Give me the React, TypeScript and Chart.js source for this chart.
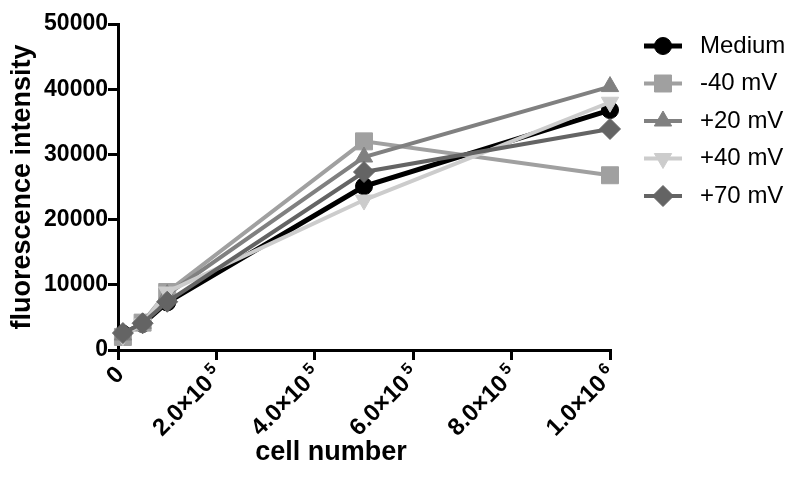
import React, { useEffect, useRef } from 'react';
import { Chart, registerables } from 'chart.js';
import { drawPoint } from 'chart.js/helpers';

Chart.register(...registerables);

// ---- data ----
const cellNumbers = [1e4, 5e4, 1e5, 5e5, 1e6];
const seriesNames = ['Medium', '-40 mV', '+20 mV', '+40 mV', '+70 mV'];
const medium = [2500, 4000, 7300, 25100, 36800];
const minus40 = [2000, 4200, 8900, 32000, 26800];
const plus20 = [2300, 4100, 8500, 29600, 40400];
const plus40 = [2200, 4000, 8900, 23000, 38000];
const plus70 = [2600, 4100, 7400, 27300, 33900];
const xTickValues = [0, 2e5, 4e5, 6e5, 8e5, 1e6];
const xTickMantissas = ['0', '2.0×10', '4.0×10', '6.0×10', '8.0×10', '1.0×10'];
const xTickExponents = ['', '5', '5', '5', '5', '6'];
const yTickValues = [0, 10000, 20000, 30000, 40000, 50000];
const xTitle = 'cell number';
const yTitle = 'fluorescence intensity';

// ---- styles ----
const FONT = '"Liberation Sans", Arial, Helvetica, sans-serif';
const colors = ['#000000', '#a0a0a0', '#808080', '#cccccc', '#646464'];
const pointStyles = ['circle', 'rect', 'triangle', 'triangle', 'rectRot'];
const pointRotations = [0, 0, 0, 180, 0];
const pointRadii = [8.5, 12, 10, 10, 10.5];
const lineWidths = [5, 4, 4, 4, 4];
const drawOrder = [4, 3, 2, 1, 0];

const legendPlugin = {
  id: 'customLegend',
  afterDraw(chart: any) {
    const ctx = chart.ctx;
    const { right, top } = chart.chartArea;
    chart.data.datasets.forEach((ds: any, i: number) => {
      const y = top + 22 + i * 37.5;
      const x0 = right + 34;
      const x1 = right + 72;
      ctx.save();
      ctx.strokeStyle = ds.borderColor;
      ctx.lineWidth = ds.borderWidth;
      ctx.beginPath();
      ctx.moveTo(x0, y);
      ctx.lineTo(x1, y);
      ctx.stroke();
      ctx.fillStyle = ds.pointBackgroundColor;
      ctx.strokeStyle = ds.pointBorderColor;
      ctx.lineWidth = 1;
      drawPoint(
        ctx,
        { pointStyle: ds.pointStyle, rotation: ds.pointRotation, radius: ds.pointRadius, borderWidth: 1 } as any,
        (x0 + x1) / 2,
        y
      );
      ctx.fillStyle = '#000';
      ctx.font = `24px ${FONT}`;
      ctx.textAlign = 'left';
      ctx.textBaseline = 'middle';
      ctx.fillText(ds.label, right + 90, y);
      ctx.restore();
    });
  },
};

const xAxisTextPlugin = {
  id: 'xAxisText',
  afterDraw(chart: any) {
    const ctx = chart.ctx;
    const { left, right, bottom } = chart.chartArea;
    const sx = chart.scales.x;
    ctx.save();
    ctx.fillStyle = '#000';
    // rotated tick labels with superscript exponents
    xTickValues.forEach((v, i) => {
      const x = sx.getPixelForValue(v);
      ctx.save();
      ctx.translate(x, bottom + 10);
      ctx.rotate(-Math.PI / 4);
      ctx.textAlign = 'right';
      ctx.textBaseline = 'alphabetic';
      let end = -6;
      const ex = xTickExponents[i];
      if (ex) {
        ctx.font = `bold 16px ${FONT}`;
        ctx.fillText(ex, end, 7);
        end = end - (ctx.measureText(ex).width + 4);
      }
      ctx.font = `bold 24px ${FONT}`;
      ctx.fillText(xTickMantissas[i], end, 16);
      ctx.restore();
    });
    // axis title
    ctx.font = `bold 27px ${FONT}`;
    ctx.textAlign = 'center';
    ctx.textBaseline = 'middle';
    ctx.fillText(xTitle, left + (right - left) * 0.433, bottom + 103);
    ctx.restore();
  },
};

export default function App() {
  const ref = useRef<HTMLCanvasElement | null>(null);

  useEffect(() => {
    document.body.style.margin = '0';
    const canvas = ref.current;
    if (!canvas) return;
    const series = [medium, minus40, plus20, plus40, plus70];
    const chart = new Chart(canvas, {
      type: 'line',
      data: {
        datasets: series.map((vals, i) => ({
          label: seriesNames[i],
          data: cellNumbers.map((x, j) => ({ x, y: vals[j] })),
          borderColor: colors[i],
          backgroundColor: colors[i],
          pointBackgroundColor: colors[i],
          pointBorderColor: colors[i],
          pointBorderWidth: 1,
          borderWidth: lineWidths[i],
          pointStyle: pointStyles[i] as any,
          pointRotation: pointRotations[i],
          pointRadius: pointRadii[i],
          pointHoverRadius: pointRadii[i],
          tension: 0,
          fill: false,
          clip: false as any,
          order: drawOrder[i],
        })),
      },
      options: {
        animation: false,
        responsive: false,
        devicePixelRatio: 1,
        layout: { padding: { top: 24, right: 188, left: 0, bottom: 0 } },
        plugins: { legend: { display: false }, tooltip: { enabled: false } },
        scales: {
          x: {
            type: 'linear',
            min: 0,
            max: 1e6,
            afterBuildTicks: (s: any) => {
              s.ticks = xTickValues.map((v) => ({ value: v }));
            },
            afterFit: (s: any) => {
              s.height = 141;
            },
            ticks: { display: false, autoSkip: false },
            grid: { drawOnChartArea: false, drawTicks: true, tickLength: 10, lineWidth: 3, color: '#000' },
            border: { display: true, color: '#000', width: 3 },
          },
          y: {
            type: 'linear',
            min: 0,
            max: 50000,
            afterBuildTicks: (s: any) => {
              s.ticks = yTickValues.map((v) => ({ value: v }));
            },
            afterFit: (s: any) => {
              s.width = 118;
            },
            ticks: {
              callback: (v: any) => String(v),
              padding: 0,
              color: '#000',
              font: { family: FONT, size: 23, weight: 'bold' },
            },
            grid: { drawOnChartArea: false, drawTicks: true, tickLength: 10, lineWidth: 3, color: '#000' },
            border: { display: true, color: '#000', width: 3 },
            title: {
              display: true,
              text: yTitle,
              color: '#000',
              font: { family: FONT, size: 27, weight: 'bold' },
              padding: { top: 6, bottom: 0 },
            },
          },
        },
      },
      plugins: [legendPlugin, xAxisTextPlugin],
    } as any);
    return () => chart.destroy();
  }, []);

  return (
    <div style={{ width: 798, height: 491 }}>
      <canvas ref={ref} width={798} height={491} />
    </div>
  );
}
